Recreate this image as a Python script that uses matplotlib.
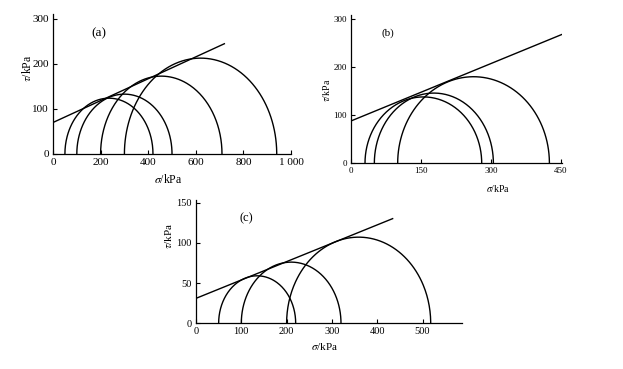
import numpy as np
import matplotlib
matplotlib.use("Agg")
import matplotlib.pyplot as plt

plt.rcParams['font.family'] = ['Liberation Serif', 'DejaVu Serif']
plt.rcParams['mathtext.fontset'] = 'stix'

# (a) Mohr circles: left / right principal stress, peak shear (kPa)
a_left = [50, 100, 200, 300]
a_right = [420, 500, 710, 940]
a_peak = [124, 133, 173, 213]
a_line_x = [0, 720]
a_line_y = [70, 245]

# (b)
b_left = [30, 50, 100]
b_right = [280, 305, 425]
b_peak = [138, 146, 180]
b_line_x = [0, 452]
b_line_y = [88, 268]

# (c)
c_left = [50, 100, 200]
c_right = [220, 320, 518]
c_peak = [59, 76, 107]
c_line_x = [0, 434]
c_line_y = [31, 130]

fig = plt.figure(figsize=(6.23, 3.69), dpi=100)

panels = [
    # data, axes rect, limits, ticks, tick labels, font size, label coords, panel tag
    dict(left=a_left, right=a_right, peak=a_peak, lx=a_line_x, ly=a_line_y,
         rect=[0.0851, 0.5827, 0.3820, 0.3805], xlim=1000, ylim=312,
         xt=[0, 200, 400, 600, 800, 1000], xtl=['0', '200', '400', '600', '800', '1 000'],
         yt=[0, 100, 200, 300], fs=8, ylc=(-0.109, 0.613), xlc=(0.483, -0.185),
         tag='(a)', tagpos=(193, 269)),
    dict(left=b_left, right=b_right, peak=b_peak, lx=b_line_x, ly=b_line_y,
         rect=[0.5634, 0.5575, 0.3387, 0.4014], xlim=452, ylim=308,
         xt=[0, 150, 300, 450], xtl=['0', '150', '300', '450'],
         yt=[0, 100, 200, 300], fs=6.5, ylc=(-0.118, 0.495), xlc=(0.697, -0.167),
         tag='(b)', tagpos=(79, 271)),
    dict(left=c_left, right=c_right, peak=c_peak, lx=c_line_x, ly=c_line_y,
         rect=[0.3146, 0.1238, 0.4262, 0.3339], xlim=586, ylim=153,
         xt=[0, 100, 200, 300, 400, 500], xtl=['0', '100', '200', '300', '400', '500'],
         yt=[0, 50, 100, 150], fs=7.5, ylc=(-0.105, 0.709), xlc=(0.486, -0.19),
         tag='(c)', tagpos=(112, 131)),
]

t = np.linspace(0, np.pi, 200)
for p in panels:
    ax = fig.add_axes(p['rect'])
    for l, r, h in zip(p['left'], p['right'], p['peak']):
        c = (l + r) / 2
        w = (r - l) / 2
        ax.plot(c - w * np.cos(t), h * np.sin(t), color='black', lw=1.0)
    ax.plot(p['lx'], p['ly'], color='black', lw=1.0)
    ax.set_xlim(0, p['xlim'])
    ax.set_ylim(0, p['ylim'])
    ax.set_xticks(p['xt'])
    ax.set_xticklabels(p['xtl'])
    ax.set_yticks(p['yt'])
    ax.tick_params(direction='in', length=3, width=0.8, labelsize=p['fs'], pad=3)
    for s in ['top', 'right']:
        ax.spines[s].set_visible(False)
    for s in ['left', 'bottom']:
        ax.spines[s].set_linewidth(0.9)
    ax.set_ylabel(r'$\tau$/kPa', fontsize=p['fs'] + 0.5, va='center')
    ax.set_xlabel(r'$\sigma$/kPa', fontsize=p['fs'] + 0.5, va='center')
    ax.yaxis.set_label_coords(*p['ylc'])
    ax.xaxis.set_label_coords(*p['xlc'])
    ax.text(p['tagpos'][0], p['tagpos'][1], p['tag'], fontsize=p['fs'] + 1.5,
            ha='center', va='center')

fig.savefig('out.png', dpi=100)
